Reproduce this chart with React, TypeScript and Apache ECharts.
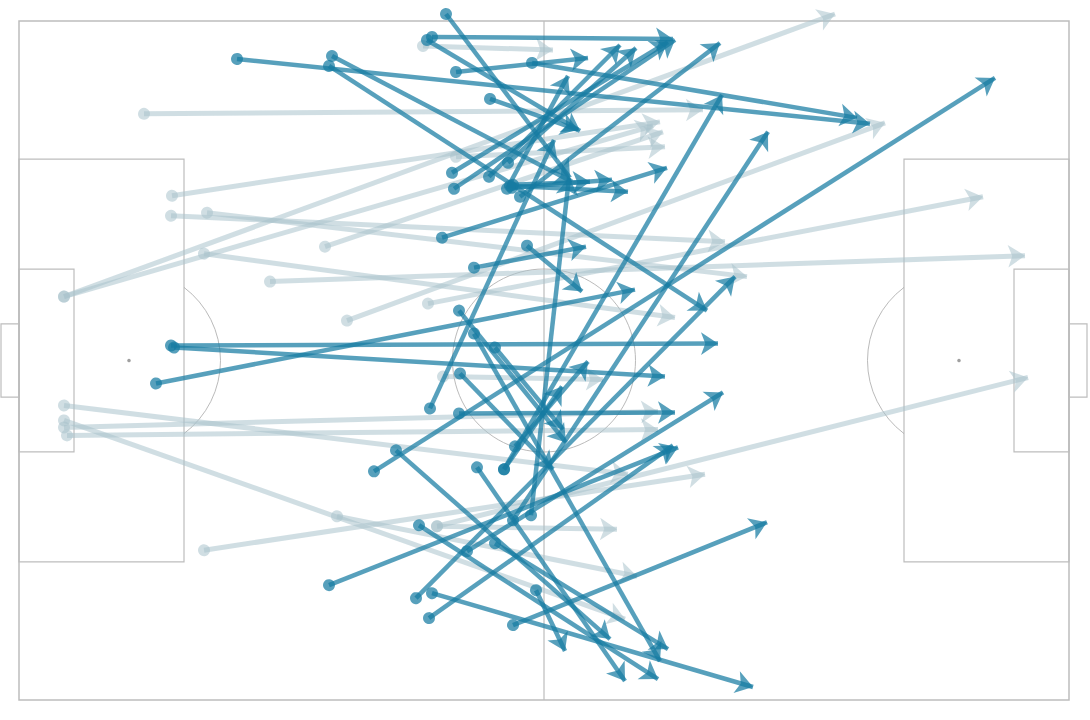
import React, { useEffect, useRef } from "react";
import * as echarts from "echarts";

const PITCH_LENGTH = 105;
const PITCH_WIDTH = 68;

// Completed passes: [startX, startY, endX, endY] in metres (y measured from top touchline)
const completedPasses: number[][] = [
  [42.7, -0.7, 55.1, 15.7],
  [21.8, 3.8, 85.1, 10.3],
  [31.3, 3.5, 55.3, 16.1],
  [31.0, 4.5, 68.8, 29.0],
  [41.3, 1.6, 65.4, 1.8],
  [40.8, 1.9, 56.1, 11.0],
  [43.7, 5.1, 56.9, 3.7],
  [51.3, 4.2, 83.8, 9.7],
  [47.1, 7.8, 55.9, 10.9],
  [43.3, 15.2, 64.9, 2.1],
  [43.5, 16.8, 65.6, 1.9],
  [47.0, 15.6, 60.1, 2.4],
  [48.9, 14.2, 61.7, 2.7],
  [48.8, 16.8, 54.9, 5.5],
  [50.1, 17.6, 70.1, 2.2],
  [42.3, 21.7, 64.8, 14.7],
  [49.4, 16.4, 57.1, 16.1],
  [49.3, 16.7, 59.3, 15.9],
  [49.1, 16.5, 60.9, 17.1],
  [50.8, 22.5, 56.3, 27.1],
  [45.5, 24.7, 56.7, 22.6],
  [41.1, 38.8, 53.5, 11.9],
  [51.2, 49.5, 55.0, 15.7],
  [48.5, 44.9, 70.3, 7.4],
  [49.4, 50.0, 74.9, 11.1],
  [15.2, 32.5, 69.9, 32.3],
  [15.5, 32.7, 64.6, 35.6],
  [13.7, 36.3, 61.6, 26.9],
  [44.0, 29.0, 54.7, 42.2],
  [45.5, 31.3, 64.1, 64.1],
  [47.6, 32.7, 54.4, 40.9],
  [44.1, 35.3, 53.4, 44.9],
  [44.0, 39.3, 65.6, 39.2],
  [37.7, 43.0, 59.1, 61.9],
  [35.5, 45.1, 97.6, 5.7],
  [49.6, 42.6, 56.9, 34.1],
  [48.5, 44.9, 54.3, 36.6],
  [45.8, 44.7, 60.6, 66.1],
  [31.0, 56.5, 65.9, 42.7],
  [40.0, 50.5, 63.9, 65.9],
  [44.8, 53.1, 70.4, 37.2],
  [47.6, 52.3, 64.9, 62.9],
  [39.7, 57.8, 71.6, 25.6],
  [41.3, 57.3, 73.4, 66.7],
  [41.0, 59.8, 65.4, 42.5],
  [49.4, 60.5, 74.8, 50.2],
  [51.7, 57.0, 54.6, 63.1],
];

// Unsuccessful passes: [startX, startY, endX, endY] in metres
const missedPasses: number[][] = [
  [12.5, 9.3, 68.4, 8.9],
  [15.3, 17.5, 64.1, 10.1],
  [4.5, 27.6, 81.6, -0.7],
  [4.5, 27.6, 63.4, 10.5],
  [30.6, 22.6, 64.4, 11.1],
  [43.7, 13.6, 64.6, 12.6],
  [15.2, 19.5, 70.6, 22.1],
  [18.8, 19.2, 72.8, 25.6],
  [18.5, 23.3, 65.6, 29.7],
  [25.1, 26.1, 100.6, 23.5],
  [32.8, 30.0, 86.6, 10.2],
  [40.9, 28.3, 96.4, 17.6],
  [40.4, 2.5, 53.4, 2.9],
  [42.4, 35.6, 58.4, 35.9],
  [4.5, 38.5, 60.9, 45.4],
  [4.5, 40.7, 63.9, 39.1],
  [4.8, 41.5, 63.9, 40.9],
  [4.5, 40.0, 60.6, 59.9],
  [18.5, 53.0, 68.6, 45.4],
  [31.8, 49.6, 61.8, 55.6],
  [41.8, 50.6, 100.9, 35.7],
  [41.8, 50.6, 59.8, 50.9],
];

const toLines = (passes: number[][]) =>
  passes.map(([x1, y1, x2, y2]) => ({ coords: [[x1, y1], [x2, y2]] }));

const LINE_COLOR = "#bdbdbd";
const ARC_COLOR = "#a8a8a8";

function renderPitch(params: any, api: any) {
  const c = (x: number, y: number) => api.coord([x, y]);
  const o = c(0, 0);
  const e = c(PITCH_LENGTH, PITCH_WIDTH);
  const sx = (e[0] - o[0]) / PITCH_LENGTH;
  const main = { fill: "none", stroke: LINE_COLOR, lineWidth: 1.5 };
  const box = { fill: "none", stroke: LINE_COLOR, lineWidth: 1.2 };
  const thin = { fill: "none", stroke: ARC_COLOR, lineWidth: 0.8 };
  const rect = (x0: number, y0: number, x1: number, y1: number, style: any) => {
    const a = c(x0, y0);
    const b = c(x1, y1);
    return {
      type: "rect",
      shape: {
        x: Math.min(a[0], b[0]),
        y: Math.min(a[1], b[1]),
        width: Math.abs(b[0] - a[0]),
        height: Math.abs(b[1] - a[1]),
      },
      style,
    };
  };
  const mid = PITCH_WIDTH / 2;
  const pa = 40.32 / 2;
  const ga = 18.32 / 2;
  const gw = 7.32 / 2;
  const centre = c(PITCH_LENGTH / 2, mid);
  const lp = c(11, mid);
  const rp = c(PITCH_LENGTH - 11, mid);
  const arcAng = Math.acos(5.5 / 9.15);
  const children: any[] = [
    rect(0, 0, PITCH_LENGTH, PITCH_WIDTH, main),
    {
      type: "line",
      shape: { x1: centre[0], y1: o[1], x2: centre[0], y2: e[1] },
      style: { stroke: LINE_COLOR, lineWidth: 1.2 },
    },
    { type: "circle", shape: { cx: centre[0], cy: centre[1], r: 9.15 * sx }, style: thin },
    rect(0, mid - pa, 16.5, mid + pa, box),
    rect(0, mid - ga, 5.5, mid + ga, box),
    rect(-1.8, mid - gw, 0, mid + gw, box),
    rect(PITCH_LENGTH - 16.5, mid - pa, PITCH_LENGTH, mid + pa, box),
    rect(PITCH_LENGTH - 5.5, mid - ga, PITCH_LENGTH, mid + ga, box),
    rect(PITCH_LENGTH, mid - gw, PITCH_LENGTH + 1.8, mid + gw, box),
    { type: "circle", shape: { cx: lp[0], cy: lp[1], r: 1.8 }, style: { fill: "#a0a0a0" } },
    { type: "circle", shape: { cx: rp[0], cy: rp[1], r: 1.8 }, style: { fill: "#a0a0a0" } },
    {
      type: "arc",
      shape: { cx: lp[0], cy: lp[1], r: 9.15 * sx, startAngle: -arcAng, endAngle: arcAng, clockwise: true },
      style: thin,
    },
    {
      type: "arc",
      shape: {
        cx: rp[0],
        cy: rp[1],
        r: 9.15 * sx,
        startAngle: Math.PI - arcAng,
        endAngle: Math.PI + arcAng,
        clockwise: true,
      },
      style: thin,
    },
  ];
  return { type: "group", children };
}

export default function App() {
  const ref = useRef<HTMLDivElement>(null);
  useEffect(() => {
    document.body.style.margin = "0";
    const chart = echarts.init(ref.current!, null, { renderer: "svg" });
    chart.setOption({
      animation: false,
      backgroundColor: "#ffffff",
      grid: { left: 19, top: 21, width: 1050, height: 679 },
      xAxis: { type: "value", min: 0, max: PITCH_LENGTH, show: false },
      yAxis: { type: "value", min: 0, max: PITCH_WIDTH, inverse: true, show: false },
      series: [
        {
          type: "custom",
          coordinateSystem: "cartesian2d",
          renderItem: renderPitch,
          data: [[0, 0]],
          silent: true,
          z: 1,
        },
        {
          name: "Unsuccessful",
          type: "lines",
          coordinateSystem: "cartesian2d",
          clip: false,
          silent: true,
          symbol: ["circle", "arrow"],
          symbolSize: [12, 17],
          lineStyle: { color: "#aac3cc", width: 5, opacity: 0.55 },
          data: toLines(missedPasses),
          z: 2,
        },
        {
          name: "Successful",
          type: "lines",
          coordinateSystem: "cartesian2d",
          clip: false,
          silent: true,
          symbol: ["circle", "arrow"],
          symbolSize: [12, 17],
          lineStyle: { color: "#167ca2", width: 4.5, opacity: 0.72 },
          data: toLines(completedPasses),
          z: 3,
        },
      ],
    });
    return () => chart.dispose();
  }, []);
  return <div ref={ref} style={{ width: 1090, height: 720 }} />;
}
